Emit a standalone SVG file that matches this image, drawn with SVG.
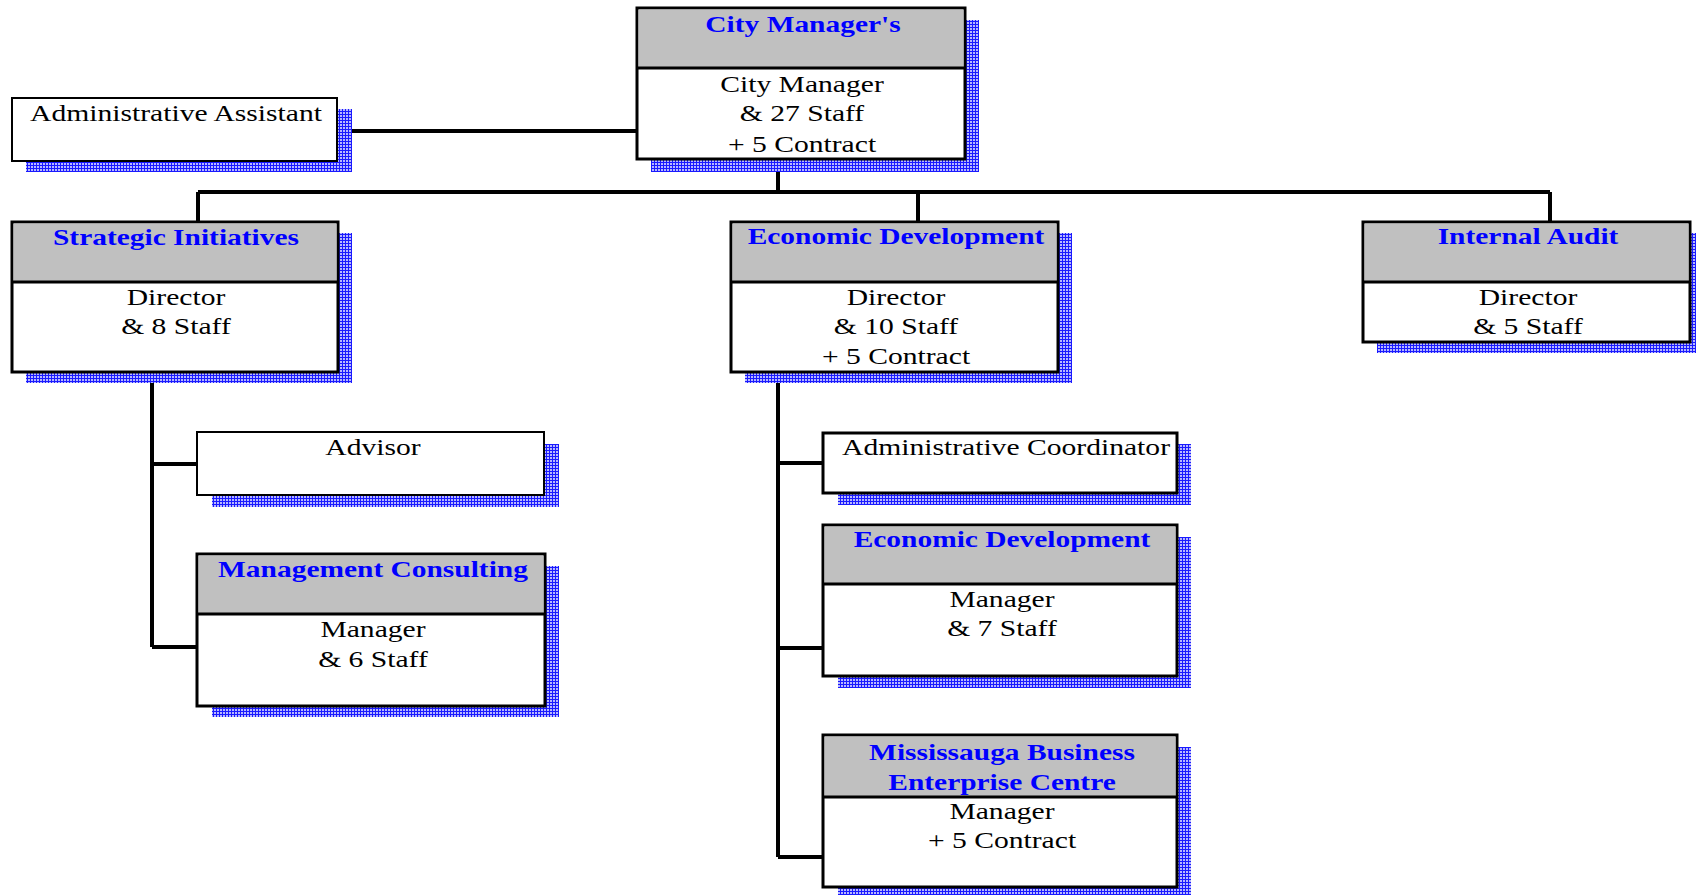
<svg xmlns="http://www.w3.org/2000/svg" width="1696" height="895" viewBox="0 0 1696 895">
<defs>
<pattern id="grid" width="3" height="3" patternUnits="userSpaceOnUse">
<rect width="3" height="3" fill="#b8b8ff"/>
<path d="M0 0.5H3M0.5 0V3" stroke="#1a1aff" stroke-width="1"/>
</pattern>
</defs>
<style>
.sh{fill:url(#grid)}
.box{fill:#fff;stroke:#000;stroke-width:3}
.thin{fill:#fff;stroke:#000;stroke-width:2}
.hd{fill:#c0c0c0}
.div{stroke:#000;stroke-width:3}
.h{font-family:"Liberation Serif","Times New Roman",serif;font-weight:bold;font-size:23px;fill:#0000ff;text-anchor:middle}
.t{font-family:"Liberation Serif","Times New Roman",serif;font-size:23.5px;fill:#000;text-anchor:middle}
.c{fill:none;stroke:#000;stroke-width:4}
</style>
<g id="connectors">
<path class="c" d="M778 159V192M198 192H1550M198 192V222M918 192V222M1550 192V222"/>
<path class="c" d="M337 131H637"/>
<path class="c" d="M152 372V647M152 464H197M152 647H197"/>
<path class="c" d="M778 372V857M778 463H823M778 648H823M778 857H823"/>
</g>
<g id="city-manager">
<rect class="sh" x="651" y="20" width="328" height="152"/>
<rect class="box" x="637" y="8" width="328" height="151"/>
<rect class="hd" x="638.5" y="9.5" width="325" height="58.5"/>
<line class="div" x1="637" y1="68" x2="965" y2="68"/>
<text class="h" transform="translate(803 32) scale(1.28 1)">City Manager's</text>
<text class="t" transform="translate(802 92) scale(1.26 1)">City Manager</text>
<text class="t" transform="translate(802 121) scale(1.26 1)">&amp; 27 Staff</text>
<text class="t" transform="translate(802 152) scale(1.26 1)">+ 5 Contract</text>
</g>
<g id="admin-assistant">
<rect class="sh" x="26" y="109" width="326" height="63"/>
<rect class="thin" x="12" y="98" width="325" height="63"/>
<text class="t" transform="translate(176 121) scale(1.26 1)">Administrative Assistant</text>
</g>
<g id="strategic-initiatives">
<rect class="sh" x="26" y="233" width="326" height="150"/>
<rect class="box" x="12" y="222" width="326" height="150"/>
<rect class="hd" x="13.5" y="223.5" width="323" height="58.5"/>
<line class="div" x1="12" y1="282" x2="338" y2="282"/>
<text class="h" transform="translate(176 245) scale(1.28 1)">Strategic Initiatives</text>
<text class="t" transform="translate(176 305) scale(1.26 1)">Director</text>
<text class="t" transform="translate(176 334) scale(1.26 1)">&amp; 8 Staff</text>
</g>
<g id="economic-development">
<rect class="sh" x="745" y="233" width="327" height="150"/>
<rect class="box" x="731" y="222" width="327" height="150"/>
<rect class="hd" x="732.5" y="223.5" width="324" height="58.5"/>
<line class="div" x1="731" y1="282" x2="1058" y2="282"/>
<text class="h" transform="translate(896 244) scale(1.28 1)">Economic Development</text>
<text class="t" transform="translate(896 305) scale(1.26 1)">Director</text>
<text class="t" transform="translate(896 334) scale(1.26 1)">&amp; 10 Staff</text>
<text class="t" transform="translate(896 364) scale(1.26 1)">+ 5 Contract</text>
</g>
<g id="internal-audit">
<rect class="sh" x="1377" y="233" width="327" height="120"/>
<rect class="box" x="1363" y="222" width="327" height="120"/>
<rect class="hd" x="1364.5" y="223.5" width="324" height="58.5"/>
<line class="div" x1="1363" y1="282" x2="1690" y2="282"/>
<text class="h" transform="translate(1528 244) scale(1.28 1)">Internal Audit</text>
<text class="t" transform="translate(1528 305) scale(1.26 1)">Director</text>
<text class="t" transform="translate(1528 334) scale(1.26 1)">&amp; 5 Staff</text>
</g>
<g id="advisor">
<rect class="sh" x="212" y="444" width="347" height="63"/>
<rect class="thin" x="197" y="432" width="347" height="63"/>
<text class="t" transform="translate(373 455) scale(1.26 1)">Advisor</text>
</g>
<g id="management-consulting">
<rect class="sh" x="212" y="566" width="347" height="151"/>
<rect class="box" x="197" y="554" width="348" height="152"/>
<rect class="hd" x="198.5" y="555.5" width="345" height="58.5"/>
<line class="div" x1="197" y1="614" x2="545" y2="614"/>
<text class="h" transform="translate(373 577) scale(1.28 1)">Management Consulting</text>
<text class="t" transform="translate(373 637) scale(1.26 1)">Manager</text>
<text class="t" transform="translate(373 667) scale(1.26 1)">&amp; 6 Staff</text>
</g>
<g id="administrative-coordinator">
<rect class="sh" x="838" y="444" width="353" height="61"/>
<rect class="box" x="823" y="433" width="354" height="60"/>
<text class="t" transform="translate(1006 455) scale(1.26 1)">Administrative Coordinator</text>
</g>
<g id="economic-development-manager">
<rect class="sh" x="838" y="537" width="353" height="151"/>
<rect class="box" x="823" y="525" width="354" height="151"/>
<rect class="hd" x="824.5" y="526.5" width="351" height="57.5"/>
<line class="div" x1="823" y1="584" x2="1177" y2="584"/>
<text class="h" transform="translate(1002 547) scale(1.28 1)">Economic Development</text>
<text class="t" transform="translate(1002 607) scale(1.26 1)">Manager</text>
<text class="t" transform="translate(1002 636) scale(1.26 1)">&amp; 7 Staff</text>
</g>
<g id="mbec">
<rect class="sh" x="838" y="747" width="353" height="150"/>
<rect class="box" x="823" y="735" width="354" height="152"/>
<rect class="hd" x="824.5" y="736.5" width="351" height="60.5"/>
<line class="div" x1="823" y1="797" x2="1177" y2="797"/>
<text class="h" transform="translate(1002 760) scale(1.28 1)">Mississauga Business</text>
<text class="h" transform="translate(1002 790) scale(1.28 1)">Enterprise Centre</text>
<text class="t" transform="translate(1002 819) scale(1.26 1)">Manager</text>
<text class="t" transform="translate(1002 848) scale(1.26 1)">+ 5 Contract</text>
</g>
</svg>
